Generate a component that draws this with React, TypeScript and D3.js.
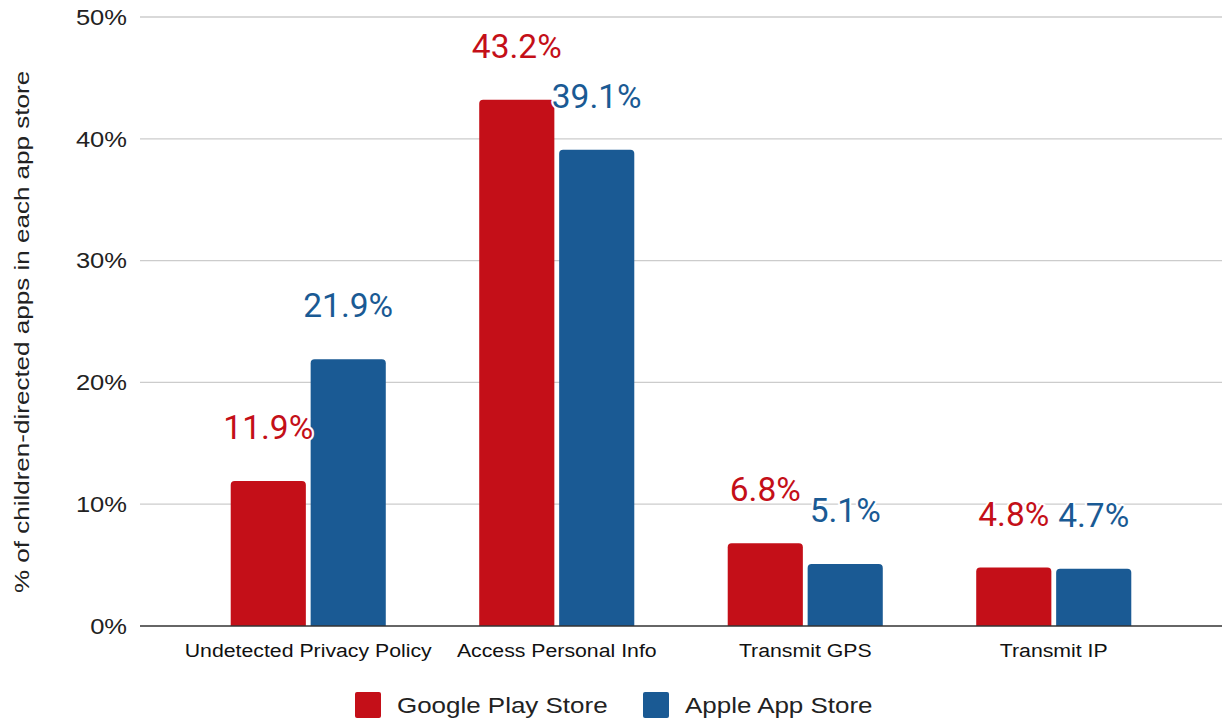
import React, { useEffect, useRef } from "react";
import * as d3 from "d3";

const categories = ["Undetected Privacy Policy", "Access Personal Info", "Transmit GPS", "Transmit IP"];
const seriesNames = ["Google Play Store", "Apple App Store"];
const googleValues = [11.9, 43.2, 6.8, 4.8];
const appleValues = [21.9, 39.1, 5.1, 4.7];
const yTicks = [0, 10, 20, 30, 40, 50];
const colors = ["#c40f18", "#1a5a94"];

const App = () => {
  const svgRef = useRef<SVGSVGElement>(null);

  useEffect(() => {
    const width = 1228, height = 721;
    const svg = d3.select(svgRef.current);
    svg.selectAll("*").remove();
    svg.attr("width", width).attr("height", height);

    const left = 140, right = 1222, top = 17, bottom = 626;
    const axisFont = "Liberation Sans, Arial, sans-serif";

    const y = d3.scaleLinear().domain([0, 50]).range([bottom, top]);
    const x = d3.scaleBand().domain(categories).range([184, 1178]).paddingInner(0.376).paddingOuter(0.188);
    const xs = d3.scaleBand().domain(seriesNames).range([0, x.bandwidth()]).paddingInner(0.06);

    // gridlines
    svg.append("g")
      .selectAll("line")
      .data(yTicks.filter(d => d > 0))
      .enter()
      .append("line")
      .attr("x1", left).attr("x2", right)
      .attr("y1", d => y(d)).attr("y2", d => y(d))
      .attr("stroke", "#cccccc").attr("stroke-width", 1.3);

    // y tick labels (text in the source is a bit wider than Liberation Sans)
    svg.append("g")
      .selectAll("text")
      .data(yTicks)
      .enter()
      .append("text")
      .attr("transform", d => `translate(127,${y(d)}) scale(1.16,1)`)
      .attr("dy", "0.35em")
      .attr("text-anchor", "end")
      .attr("font-family", axisFont)
      .attr("font-size", 22)
      .attr("fill", "#222")
      .text(d => d + "%");

    // y title
    svg.append("text")
      .attr("transform", `translate(29,332) rotate(-90) scale(1.24,1)`)
      .attr("text-anchor", "middle")
      .attr("font-family", axisFont)
      .attr("font-size", 21)
      .attr("fill", "#222")
      .text("% of children-directed apps in each app store");

    const data = seriesNames.map((s, i) => ({
      name: s,
      color: colors[i],
      values: i === 0 ? googleValues : appleValues,
    }));

    const barPath = (x0: number, y0: number, w: number, h: number, r: number) => {
      const p = d3.path();
      p.moveTo(x0, y0 + h);
      p.lineTo(x0, y0 + r);
      p.quadraticCurveTo(x0, y0, x0 + r, y0);
      p.lineTo(x0 + w - r, y0);
      p.quadraticCurveTo(x0 + w, y0, x0 + w, y0 + r);
      p.lineTo(x0 + w, y0 + h);
      p.closePath();
      return p.toString();
    };

    data.forEach(s => {
      const g = svg.append("g");
      g.selectAll("path")
        .data(s.values)
        .enter()
        .append("path")
        .attr("d", (d, i) => {
          const bx = (x(categories[i]) as number) + (xs(s.name) as number);
          return barPath(bx, y(d), xs.bandwidth(), bottom - y(d), 4);
        })
        .attr("fill", s.color);
    });

    // zero line
    svg.append("line")
      .attr("x1", left).attr("x2", right)
      .attr("y1", bottom).attr("y2", bottom)
      .attr("stroke", "#333").attr("stroke-width", 1.5);

    // value labels
    data.forEach(s => {
      svg.append("g")
        .selectAll("text")
        .data(s.values)
        .enter()
        .append("text")
        .attr("x", (d, i) => (x(categories[i]) as number) + (xs(s.name) as number) + xs.bandwidth() / 2)
        .attr("y", d => y(d) - 42)
        .attr("text-anchor", "middle")
        .attr("font-family", "Roboto, sans-serif")
        .attr("font-size", 33.5)
        .attr("fill", s.color)
        .attr("stroke", "white")
        .attr("stroke-width", 4)
        .attr("stroke-linejoin", "round")
        .attr("paint-order", "stroke")
        .text(d => d.toFixed(1) + "%");
    });

    // x labels
    svg.append("g")
      .selectAll("text")
      .data(categories)
      .enter()
      .append("text")
      .attr("transform", d => `translate(${(x(d) as number) + x.bandwidth() / 2},650) scale(1.12,1)`)
      .attr("dy", "0.35em")
      .attr("text-anchor", "middle")
      .attr("font-family", axisFont)
      .attr("font-size", 19)
      .attr("fill", "#111")
      .text(d => d);

    // legend
    const legendX = [355, 643];
    data.forEach((s, i) => {
      const lg = svg.append("g").attr("transform", `translate(${legendX[i]},692)`);
      lg.append("rect")
        .attr("width", 26).attr("height", 26).attr("rx", 2)
        .attr("fill", s.color);
      lg.append("text")
        .attr("transform", "translate(42,13) scale(1.18,1)")
        .attr("dy", "0.35em")
        .attr("font-family", axisFont)
        .attr("font-size", 22)
        .attr("fill", "#222")
        .text(s.name);
    });
  }, []);

  return (
    <div style={{ position: "absolute", left: 0, top: 0 }}>
      <svg ref={svgRef}></svg>
    </div>
  );
};

export default App;
